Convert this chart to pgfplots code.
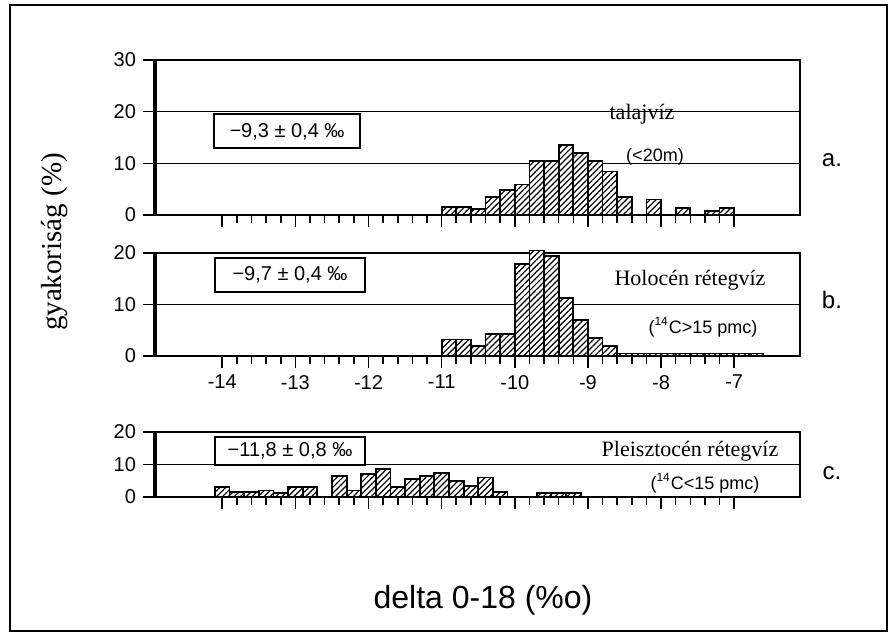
\documentclass[border=0pt]{standalone}
\usepackage{pgfplots}
\pgfplotsset{compat=1.18}
\usetikzlibrary{patterns.meta}
\usepackage{fontspec}
\setmainfont{Liberation Sans}
\newfontfamily\serif{Liberation Serif}

\pgfplotsset{
  panel/.style={
    scale only axis, width=322.5pt, anchor=south west,
    xmin=-14.92, xmax=-6.1,
    xtick={-14,-13,...,-7}, minor x tick num=4,
    tick align=outside, tick pos=left,
    major tick length=6pt, minor tick length=4pt,
    every tick/.style={black, line width=0.8pt},
    axis line style={line width=0.9pt},
    ymajorgrids, grid style={black, line width=0.7pt},
    ytick={0,10,20,30},
    ticklabel style={font=\fontsize{10}{11}\selectfont},
    /pgf/number format/assume math mode=true,
    clip=false,
  },
  hbar/.style={ybar, bar width=0.2, draw=black, line width=0.9pt,
    preaction={fill=white},
    pattern={Lines[angle=45,distance=2.1pt,line width=0.6pt]}},
}

\begin{document}
\begin{tikzpicture}
\useasboundingbox (0,0) rectangle (448pt,-318pt);
\draw[line width=0.8pt] ({10*0.5pt},{-5*0.5pt}) rectangle ({887*0.5pt},{-631*0.5pt});

% Panel a
\begin{axis}[panel, at={(77.5pt,-107.5pt)}, height=77.5pt,
  ymin=0, ymax=30, xticklabels={}]
\addplot[hbar] coordinates {
(-10.9,1.6) (-10.7,1.6) (-10.5,1.1) (-10.3,3.5) (-10.1,4.8) (-9.9,5.9)
(-9.7,10.4) (-9.5,10.4) (-9.3,13.5) (-9.1,12.0) (-8.9,10.4) (-8.7,8.4)
(-8.5,3.5) (-8.1,3.0) (-7.7,1.3) (-7.3,0.8) (-7.1,1.4)};
\draw[line width=2pt] (rel axis cs:0,0) -- (rel axis cs:0,1);
\end{axis}

% Panel b
\begin{axis}[panel, at={(77.5pt,-178pt)}, height=51.5pt,
  ymin=0, ymax=20, xticklabels={-14,-13,-12,-11,-10,-9,-8,-7}]
\addplot[hbar] coordinates {
(-10.9,3.2) (-10.7,3.2) (-10.5,1.9) (-10.3,4.2) (-10.1,4.2) (-9.9,17.9)
(-9.7,20.5) (-9.5,19.4) (-9.3,11.2) (-9.1,7.0) (-8.9,3.5) (-8.7,1.9)
(-8.5,0.5) (-8.3,0.5) (-8.1,0.5) (-7.9,0.5) (-7.7,0.5) (-7.5,0.5)
(-7.3,0.5) (-7.1,0.5) (-6.9,0.5) (-6.7,0.5)};
\draw[line width=2pt] (rel axis cs:0,0) -- (rel axis cs:0,1);
\end{axis}

% Panel c
\begin{axis}[panel, at={(77.5pt,-248.5pt)}, height=32.5pt,
  ymin=0, ymax=20, xticklabels={}]
\addplot[hbar] coordinates {
(-14.0,3.0) (-13.8,1.5) (-13.6,1.5) (-13.4,2.0) (-13.2,1.2) (-13.0,3.0)
(-12.8,3.0) (-12.4,6.5) (-12.2,2.0) (-12.0,7.0) (-11.8,8.5) (-11.6,3.0)
(-11.4,5.5) (-11.2,6.5) (-11.0,7.5) (-10.8,5.0) (-10.6,3.5) (-10.4,6.0)
(-10.2,1.5) (-9.6,1.2) (-9.4,1.2) (-9.2,1.2)};
\draw[line width=2pt] (rel axis cs:0,0) -- (rel axis cs:0,1);
\end{axis}

% annotations
\node[font=\serif\fontsize{11}{13}\selectfont] at ({642*0.5pt},{-114*0.5pt}) {talajvíz};
\node[font=\fontsize{9}{11}\selectfont] at ({655*0.5pt},{-157*0.5pt}) {(<20m)};
\node[font=\fontsize{12}{14}\selectfont] at ({832*0.5pt},{-160*0.5pt}) {a.};
\node[draw, line width=1pt, minimum width=73pt, minimum height=17pt, inner sep=1pt,
  font=\fontsize{10}{12}\selectfont] at ({287*0.5pt},{-131.5*0.5pt}) {−9,3 ± 0,4 ‰};

\node[font=\serif\fontsize{11}{13}\selectfont] at ({690*0.5pt},{-280*0.5pt}) {Holocén rétegvíz};
\node[font=\fontsize{9}{11}\selectfont] at ({703*0.5pt},{-327*0.5pt}) {(\textsuperscript{14}C>15 pmc)};
\node[font=\fontsize{12}{14}\selectfont] at ({832*0.5pt},{-300*0.5pt}) {b.};
\node[draw, line width=1pt, minimum width=75pt, minimum height=17pt, inner sep=1pt,
  font=\fontsize{10}{12}\selectfont] at ({290*0.5pt},{-275*0.5pt}) {−9,7 ± 0,4 ‰};

\node[font=\serif\fontsize{11}{13}\selectfont] at ({690*0.5pt},{-451*0.5pt}) {Pleisztocén rétegvíz};
\node[font=\fontsize{9}{11}\selectfont] at ({705*0.5pt},{-483*0.5pt}) {(\textsuperscript{14}C<15 pmc)};
\node[font=\fontsize{12}{14}\selectfont] at ({832*0.5pt},{-473*0.5pt}) {c.};
\node[draw, line width=1pt, minimum width=75pt, minimum height=14pt, inner sep=1pt,
  font=\fontsize{10}{12}\selectfont] at ({290*0.5pt},{-451*0.5pt}) {−11,8 ± 0,8 ‰};

\node[rotate=90, font=\serif\fontsize{14.5}{16}\selectfont] at ({55*0.5pt},{-242*0.5pt}) {gyakoriság (\%)};
\node[font=\fontsize{16}{19}\selectfont] at ({483*0.5pt},{-600*0.5pt}) {delta 0-18 (\%o)};
\end{tikzpicture}
\end{document}
